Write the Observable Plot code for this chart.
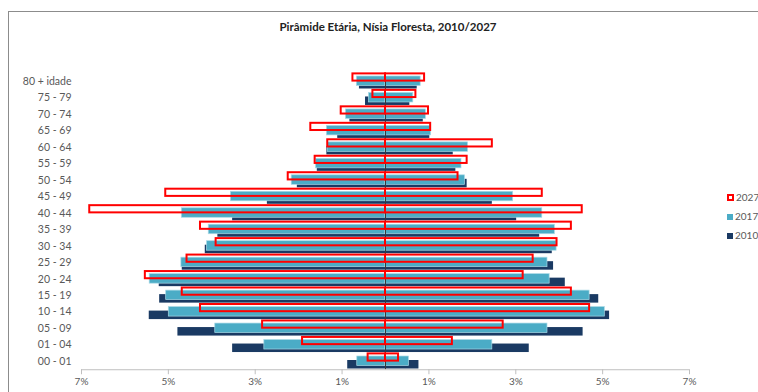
<!DOCTYPE html>
<html>
<head>
<meta charset="utf-8">
<script src="https://cdn.jsdelivr.net/npm/d3@7"></script>
<script src="https://cdn.jsdelivr.net/npm/@observablehq/plot@0.6"></script>
<style>
  html, body { margin: 0; padding: 0; background: #fff; }
  #wrap { position: relative; width: 758px; height: 392px; overflow: hidden; background: #fff; font-family: Lato, "Open Sans", sans-serif; }
  #frame { position: absolute; left: 8px; top: 11px; width: 800px; height: 420px; border-left: 1px solid #8c8c8c; border-top: 1px solid #8c8c8c; }
  #chart { position: absolute; left: 0; top: 0; }
  #title { position: absolute; left: 388px; top: 20px; transform: translateX(-50%); font-weight: bold; font-size: 11.5px; color: #222; white-space: nowrap; }
  .leg { position: absolute; left: 727px; font-size: 10px; color: #595959; white-space: nowrap; line-height: 12px; }
  .sw { display: inline-block; width: 6px; height: 6px; margin-right: 2px; box-sizing: border-box; }
</style>
</head>
<body>
<div id="wrap">
  <div id="frame"></div>
  <div id="chart"></div>
  <div id="title">Pirâmide Etária, Nísia Floresta, 2010/2027</div>
  <div class="leg" style="top:191px"><span class="sw" style="border:2px solid #ff0000;width:7px;height:7px"></span>2027</div>
  <div class="leg" style="top:210px"><span class="sw" style="background:#4bacc6"></span>2017</div>
  <div class="leg" style="top:229px"><span class="sw" style="background:#1a3a63"></span>2010</div>
</div>
<script>
const ages = ["80 + idade","75 - 79","70 - 74","65 - 69","60 - 64","55 - 59","50 - 54","45 - 49","40 - 44","35 - 39","30 - 34","25 - 29","20 - 24","15 - 19","10 - 14","05 - 09","01 - 04","00 - 01"];

// left side (%)
const esq2027 = [0.75,0.29,1.02,1.72,1.33,1.62,2.24,5.06,6.81,4.26,3.90,4.57,5.53,4.68,4.26,2.83,1.91,0.40];
const esq2017 = [0.66,0.38,0.91,1.35,1.33,1.60,2.16,3.56,4.69,4.07,4.11,4.70,5.43,5.05,4.99,3.92,2.79,0.65];
const esq2010 = [0.60,0.46,0.82,1.10,1.35,1.57,2.03,2.72,3.52,3.86,4.15,4.68,5.21,5.20,5.44,4.78,3.52,0.87];
// right side (%)
const dir2027 = [0.90,0.70,0.99,1.04,2.46,1.88,1.67,3.61,4.53,4.28,3.95,3.40,3.17,4.28,4.70,2.71,1.54,0.30];
const dir2017 = [0.81,0.64,0.93,1.05,1.90,1.75,1.83,2.94,3.61,3.90,3.94,3.73,3.78,4.70,5.05,3.73,2.46,0.54];
const dir2010 = [0.73,0.56,0.87,1.02,1.56,1.62,1.88,2.46,3.02,3.55,3.84,3.87,4.14,4.91,5.16,4.55,3.31,0.77];

const xTicks = [-7,-5,-3,-1,1,3,5,7];

const rows = (left, right) => [
  ...ages.map((a, i) => ({age: a, v: -left[i]})),
  ...ages.map((a, i) => ({age: a, v: right[i]}))
];
const r2010 = rows(esq2010, dir2010);
const r2017 = rows(esq2017, dir2017);
const r2027 = rows(esq2027, dir2027);

const plotTop = 72.76, plotBottom = 369.24;
const bw = (plotBottom - plotTop) / ages.length;
const half = bw / 2;

const chart = Plot.plot({
  width: 758,
  height: 392,
  marginLeft: 81,
  marginRight: 69,
  marginTop: plotTop,
  marginBottom: 392 - plotBottom,
  style: {background: "transparent", fontFamily: "Lato, 'Open Sans', sans-serif", fontSize: "10.5px", color: "#595959"},
  x: {domain: [-7, 7], axis: null},
  y: {domain: ages, padding: 0, round: false, axis: null},
  marks: [
    Plot.barX(r2010, {x1: 0, x2: "v", y: "age", fill: "#1a3a63", insetTop: half - 1, insetBottom: half - 7.5}),
    Plot.barX(r2017, {x1: 0, x2: "v", y: "age", fill: "#4bacc6", stroke: "#a9d9e6", strokeWidth: 0.7, insetTop: half - 5, insetBottom: half - 4.5}),
    Plot.ruleX([0], {stroke: "#3a3a3a", strokeWidth: 1}),
    Plot.barX(r2027, {x1: 0, x2: "v", y: "age", fill: "none", stroke: "#ff0000", strokeWidth: 2, insetTop: half - 7.6, insetBottom: half + 0.4}),
    Plot.ruleY(["00 - 01"], {y: d => d, dy: half, stroke: "#bfbfbf", strokeWidth: 1}),
    Plot.axisX({ticks: xTicks, tickFormat: d => Math.abs(d) + "%", tickSize: 5, tickPadding: 3, stroke: "#bfbfbf", color: "#595959", fontSize: 10, label: null}),
    Plot.axisY({anchor: "left", tickSize: 0, tickPadding: 10, color: "#595959", fontSize: 10.5, label: null})
  ]
});
document.getElementById("chart").appendChild(chart);
</script>
</body>
</html>
